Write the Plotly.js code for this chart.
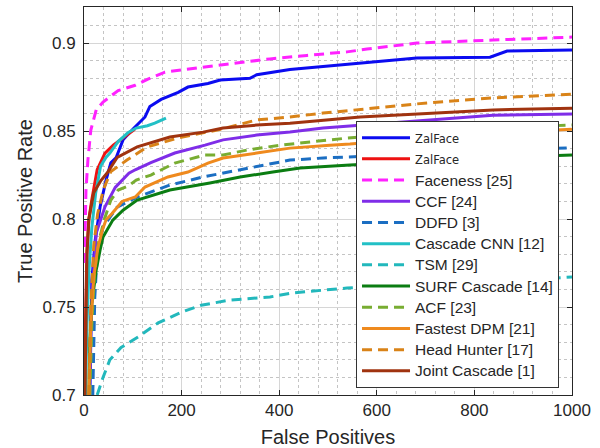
<!DOCTYPE html>
<html>
<head>
<meta charset="utf-8">
<script src="https://cdn.plot.ly/plotly-3.0.1.min.js"></script>
<style>html,body{margin:0;padding:0;background:#fff;}#chart{width:600px;height:448px;}</style>
</head>
<body>
<div id="chart"></div>
<script>
// ---- data ----
const seriesNames = ["ZalFace", "ZalFace", "Faceness [25]", "CCF [24]", "DDFD [3]", "Cascade CNN [12]", "TSM [29]", "SURF Cascade [14]", "ACF [23]", "Fastest DPM [21]", "Head Hunter [17]", "Joint Cascade [1]"];

const zalBlueX = [12, 14, 16, 23, 25, 33, 45, 55, 66, 80, 100, 125, 135, 158, 193, 213, 254, 279, 340, 354, 422, 504, 580, 682, 832, 867, 1000];
const zalBlueY = [0.70, 0.74, 0.765, 0.788, 0.792, 0.807, 0.822, 0.832, 0.835, 0.845, 0.851, 0.858, 0.864, 0.868, 0.872, 0.875, 0.877, 0.879, 0.880, 0.882, 0.885, 0.887, 0.889, 0.8915, 0.892, 0.8955, 0.896];

const zalRedX = [0, 2, 4, 6, 10, 16, 27, 43, 60, 80, 104];
const zalRedY = [0.70, 0.735, 0.765, 0.782, 0.800, 0.811, 0.828, 0.8375, 0.842, 0.846, 0.851];

const facenessX = [1, 2, 3, 4, 8, 14, 25, 39, 70, 105, 131, 166, 234, 305, 381, 457, 539, 580, 682, 838, 1000];
const facenessY = [0.775, 0.792, 0.81, 0.816, 0.8335, 0.8506, 0.862, 0.8665, 0.873, 0.876, 0.8795, 0.8835, 0.886, 0.8886, 0.891, 0.893, 0.895, 0.8966, 0.900, 0.9017, 0.9034];

const ccfX = [11, 15, 21, 25, 43, 64, 92, 105, 137, 186, 248, 285, 354, 422, 490, 545, 700, 838, 1000];
const ccfY = [0.70, 0.75, 0.775, 0.792, 0.807, 0.818, 0.826, 0.828, 0.832, 0.8375, 0.842, 0.845, 0.8477, 0.8494, 0.8517, 0.8528, 0.856, 0.859, 0.8597];

const ddfdX = [18, 20, 22, 25, 29, 39, 68, 109, 176, 244, 314, 367, 422, 490, 539, 700, 850, 1000];
const ddfdY = [0.70, 0.73, 0.755, 0.77, 0.7824, 0.7955, 0.8068, 0.8125, 0.8193, 0.8239, 0.8278, 0.8307, 0.8335, 0.8347, 0.8352, 0.837, 0.839, 0.8405];

const cascadeCnnX = [3, 6, 10, 16, 24, 34, 45, 53, 70, 90, 107, 130, 145, 168];
const cascadeCnnY = [0.70, 0.74, 0.77, 0.795, 0.815, 0.83, 0.835, 0.8375, 0.844, 0.849, 0.8517, 0.853, 0.8545, 0.8574];

const tsmX = [27, 39, 53, 76, 111, 152, 199, 240, 300, 381, 428, 539, 700, 850, 990, 1000];
const tsmY = [0.70, 0.710, 0.720, 0.727, 0.733, 0.741, 0.747, 0.751, 0.754, 0.7557, 0.758, 0.7608, 0.763, 0.765, 0.767, 0.767];

const surfX = [10, 12, 16, 25, 33, 39, 59, 80, 109, 176, 258, 320, 387, 443, 545, 700, 850, 1000];
const surfY = [0.70, 0.731, 0.752, 0.771, 0.7824, 0.7898, 0.7994, 0.805, 0.8108, 0.8165, 0.8205, 0.8239, 0.8267, 0.829, 0.8307, 0.833, 0.835, 0.8364];

const acfX = [12, 16, 22, 30, 42, 55, 70, 92, 107, 137, 186, 248, 285, 334, 402, 504, 539, 700, 850, 1000];
const acfY = [0.70, 0.74, 0.77, 0.787, 0.800, 0.8108, 0.8165, 0.819, 0.8222, 0.825, 0.8318, 0.8364, 0.8364, 0.8392, 0.842, 0.8449, 0.846, 0.849, 0.852, 0.8534];

const fastestDpmX = [10, 14, 20, 28, 38, 45, 57, 78, 105, 125, 172, 213, 254, 285, 354, 422, 504, 545, 700, 850, 1000];
const fastestDpmY = [0.70, 0.74, 0.767, 0.783, 0.794, 0.7994, 0.803, 0.810, 0.8125, 0.8182, 0.8239, 0.8267, 0.8318, 0.8347, 0.8375, 0.8403, 0.842, 0.8426, 0.846, 0.849, 0.851];

const headHunterX = [10, 14, 20, 28, 40, 55, 88, 129, 191, 280, 354, 422, 490, 572, 703, 838, 1000];
const headHunterY = [0.70, 0.75, 0.785, 0.803, 0.817, 0.827, 0.8335, 0.8409, 0.846, 0.851, 0.8563, 0.858, 0.8602, 0.8625, 0.866, 0.8688, 0.871];

const jointCascadeX = [2, 4, 6, 10, 20, 35, 47, 68, 109, 176, 244, 285, 354, 422, 490, 566, 703, 838, 1000];
const jointCascadeY = [0.70, 0.75, 0.78, 0.80, 0.815, 0.822, 0.826, 0.835, 0.841, 0.8466, 0.8494, 0.8517, 0.8534, 0.8545, 0.8563, 0.858, 0.860, 0.862, 0.863];

const xTickVals = [0, 200, 400, 600, 800, 1000];
const yTickVals = [0.7, 0.75, 0.8, 0.85, 0.9];
const yTickText = ["0.7", "0.75", "0.8", "0.85", "0.9"];

// ---- styling ----
const seriesX = [zalBlueX, zalRedX, facenessX, ccfX, ddfdX, cascadeCnnX, tsmX, surfX, acfX, fastestDpmX, headHunterX, jointCascadeX];
const seriesY = [zalBlueY, zalRedY, facenessY, ccfY, ddfdY, cascadeCnnY, tsmY, surfY, acfY, fastestDpmY, headHunterY, jointCascadeY];
const colors = ["#0b0bf0", "#ee1111", "#ff22ff", "#7f2de8", "#1b6ec2", "#22c0c6", "#22b8bc", "#0b7d12", "#78ad32", "#ef8a1e", "#d98318", "#a0330f"];
const dashed = [false, false, true, false, true, false, true, false, true, false, true, false];
const DASH = "10px,6px";

function label(name, i) {
  if (i < 2) return '<span style="font-family:\'DejaVu Sans\';font-size:11.5px">' + name + '</span>';
  return '<span style="font-size:15.5px">' + name + '</span>';
}

const traces = seriesNames.map((name, i) => ({
  type: "scatter",
  mode: "lines",
  x: seriesX[i],
  y: seriesY[i],
  name: label(name, i),
  line: { color: colors[i], width: 3, dash: dashed[i] ? DASH : "solid" },
  hoverinfo: "skip"
}));

const axisCommon = {
  ticks: "inside",
  ticklen: 5,
  tickwidth: 1,
  tickcolor: "#262626",
  showline: true,
  mirror: "ticks",
  linecolor: "#262626",
  linewidth: 1,
  showgrid: true,
  gridcolor: "#d6d6d6",
  gridwidth: 1,
  zeroline: false,
  tickfont: { family: "Liberation Sans, Arial, sans-serif", size: 17, color: "#262626" },
  automargin: false
};

const layout = {
  width: 600,
  height: 448,
  paper_bgcolor: "#ffffff",
  plot_bgcolor: "#ffffff",
  margin: { l: 84, r: 28, t: 7, b: 53 },
  font: { family: "Liberation Sans, Arial, sans-serif", color: "#262626" },
  showlegend: true,
  xaxis: Object.assign({}, axisCommon, {
    range: [0, 1000],
    tickmode: "array",
    tickvals: xTickVals,
    ticktext: xTickVals.map(String),
    minor: { dtick: 40, tick0: 0, showgrid: true, gridcolor: "#c4c4c4", griddash: "dot", gridwidth: 1, ticks: "" },
    title: { text: "False Positives", font: { size: 20, color: "#262626" }, standoff: 10 }
  }),
  yaxis: Object.assign({}, axisCommon, {
    range: [0.7, 0.9205],
    tickmode: "array",
    tickvals: yTickVals,
    ticktext: yTickText,
    ticklabelstandoff: 4,
    minor: { dtick: 0.01, tick0: 0.7, showgrid: true, gridcolor: "#c4c4c4", griddash: "dot", gridwidth: 1, ticks: "" },
    title: { text: "True Positive Rate", font: { size: 20, color: "#262626" }, standoff: 4 }
  }),
  legend: {
    x: 0.9734,
    y: 0.706,
    xanchor: "right",
    yanchor: "top",
    bgcolor: "#ffffff",
    bordercolor: "#333333",
    borderwidth: 1,
    itemwidth: 48,
    font: { family: "Liberation Sans, Arial, sans-serif", size: 14, color: "#262626" },
    tracegroupgap: 0
  }
};

Plotly.newPlot("chart", traces, layout, { displayModeBar: false, staticPlot: true });
</script>
</body>
</html>
